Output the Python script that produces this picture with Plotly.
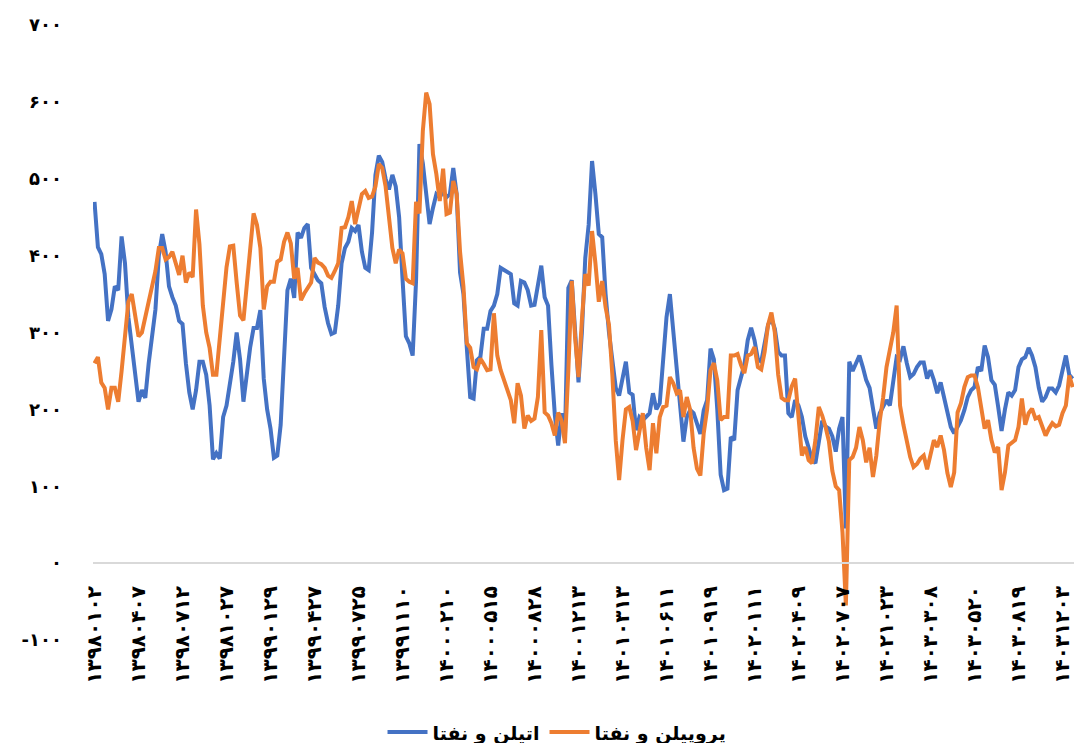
import plotly.graph_objects as go

# Tick labels (dates, Persian digits) shown every 13 points
date_labels = ["۱۳۹۸۰۱۰۲", "۱۳۹۸۰۴۰۷", "۱۳۹۸۰۷۱۲", "۱۳۹۸۱۰۲۷", "۱۳۹۹۰۱۲۹", "۱۳۹۹۰۴۲۷",
               "۱۳۹۹۰۷۲۵", "۱۳۹۹۱۱۱۰", "۱۴۰۰۰۲۱۰", "۱۴۰۰۰۵۱۵", "۱۴۰۰۰۸۲۸", "۱۴۰۰۱۲۱۳",
               "۱۴۰۱۰۳۱۳", "۱۴۰۱۰۶۱۱", "۱۴۰۱۰۹۱۹", "۱۴۰۲۰۱۱۱", "۱۴۰۲۰۴۰۹", "۱۴۰۲۰۷۰۷",
               "۱۴۰۲۱۰۲۳", "۱۴۰۳۰۳۰۸", "۱۴۰۳۰۵۲۰", "۱۴۰۳۰۸۱۹", "۱۴۰۳۱۲۰۳"]
label_step = 13

series_names = ["اتیلن و نفتا", "پروپیلن و نفتا"]

ethylene_naphtha = [
    470, 411, 402, 376, 315, 330, 360, 355, 425, 390, 320, 285, 245, 210, 225, 215, 260, 292, 330, 400,
    428, 405, 360, 346, 335, 315, 311, 260, 222, 200, 225, 262, 262, 245, 205, 135, 143, 136, 190, 205,
    232, 262, 300, 265, 210, 250, 281, 306, 306, 329, 240, 200, 175, 137, 140, 180, 280, 355, 370, 345,
    430, 423, 436, 441, 384, 375, 368, 364, 333, 312, 298, 300, 335, 390, 410, 418, 436, 432, 440, 405,
    384, 381, 430, 505, 530, 522, 500, 486, 505, 490, 450, 370, 295, 286, 270, 367, 545, 520, 480, 441,
    462, 480, 476, 484, 476, 480, 514, 480, 378, 350, 280, 216, 214, 264, 268, 305, 305, 328, 335, 350,
    384, 381, 378, 376, 338, 335, 367, 365, 355, 335, 336, 364, 387, 346, 335, 258, 193, 153, 195, 165,
    358, 368, 295, 235, 300, 397, 440, 523, 480, 428, 424, 350, 300, 265, 228, 218, 240, 262, 222, 219,
    173, 190, 186, 190, 195, 221, 200, 208, 262, 320, 350, 300, 245, 200, 158, 190, 199, 195, 183, 168,
    199, 212, 279, 265, 200, 115, 95, 97, 164, 160, 225, 242, 258, 290, 306, 290, 265, 262, 285, 310,
    318, 305, 275, 270, 270, 195, 190, 212, 205, 190, 165, 152, 135, 130, 160, 185, 178, 175, 165, 145,
    175, 190, 45, 262, 250, 260, 270, 255, 238, 228, 200, 175, 195, 205, 212, 205, 240, 268, 265, 282,
    260, 242, 246, 255, 261, 261, 240, 251, 238, 221, 235, 216, 195, 177, 169, 177, 186, 199, 216, 225,
    229, 255, 250, 283, 268, 238, 232, 203, 172, 200, 222, 218, 225, 255, 265, 268, 280, 270, 255, 228,
    210, 216, 227, 227, 222, 231, 248, 270, 245, 240,
]

propylene_naphtha = [
    260, 268, 235, 228, 200, 228, 228, 210, 250, 300, 340, 350, 320, 295, 300, 318, 340, 360, 380, 410,
    410, 395, 398, 405, 392, 375, 400, 365, 378, 372, 460, 415, 335, 300, 280, 245, 245, 290, 345, 385,
    412, 413, 365, 322, 316, 362, 405, 455, 440, 410, 330, 360, 366, 366, 392, 395, 418, 430, 416, 370,
    384, 342, 351, 358, 365, 397, 391, 389, 384, 374, 371, 380, 390, 436, 437, 450, 471, 441, 462, 480,
    484, 475, 477, 490, 519, 514, 490, 455, 410, 390, 408, 403, 370, 366, 364, 470, 455, 562, 612, 597,
    532, 506, 471, 513, 454, 456, 497, 480, 405, 360, 286, 280, 255, 252, 266, 259, 251, 252, 325, 270,
    251, 238, 225, 212, 182, 234, 218, 175, 192, 185, 188, 216, 303, 196, 192, 182, 166, 196, 185, 156,
    251, 367, 293, 242, 316, 376, 361, 432, 390, 340, 367, 333, 310, 245, 160, 108, 160, 200, 203, 185,
    147, 170, 195, 150, 121, 182, 143, 190, 203, 205, 242, 234, 221, 225, 190, 216, 199, 150, 123, 114,
    169, 200, 251, 260, 238, 186, 190, 190, 270, 270, 272, 258, 247, 270, 272, 281, 255, 252, 275, 310,
    326, 300, 245, 215, 212, 212, 230, 240, 190, 140, 151, 134, 130, 160, 203, 192, 177, 158, 120, 100,
    95, 40, -55, 134, 138, 150, 177, 160, 131, 150, 112, 140, 185, 215, 255, 280, 300, 335, 205, 180,
    160, 138, 125, 129, 136, 140, 122, 140, 160, 151, 166, 147, 117, 99, 118, 196, 208, 229, 242, 244,
    244, 229, 199, 175, 186, 160, 144, 151, 95, 118, 153, 156, 160, 177, 214, 180, 195, 201, 188, 190,
    177, 166, 175, 182, 178, 180, 195, 205, 244, 229,
]

y_ticks = [-100, 0, 100, 200, 300, 400, 500, 600, 700]

fa_digits = str.maketrans("0123456789-", "۰۱۲۳۴۵۶۷۸۹-")
y_ticktext = [str(v).translate(fa_digits) for v in y_ticks]

n = len(ethylene_naphtha)
x = list(range(n))
tickvals = [i * label_step for i in range(len(date_labels))]

FONT = "DejaVu Sans"

fig = go.Figure()
fig.add_trace(go.Scatter(x=x, y=ethylene_naphtha, mode="lines", name=series_names[0],
                         line=dict(color="#4472C4", width=4)))
fig.add_trace(go.Scatter(x=x, y=propylene_naphtha, mode="lines", name=series_names[1],
                         line=dict(color="#ED7D31", width=4)))

fig.update_layout(
    width=1074, height=743,
    margin=dict(l=93, r=0, t=25, b=103, autoexpand=False),
    paper_bgcolor="white", plot_bgcolor="white",
    showlegend=True,
    legend=dict(orientation="h", x=0.473, xanchor="center", y=-0.15, yanchor="middle",
                font=dict(family=FONT, size=19, color="black", weight="bold"),
                itemwidth=40, bgcolor="rgba(0,0,0,0)"),
    xaxis=dict(range=[-0.45, n - 0.6], tickmode="array", tickvals=tickvals, ticktext=date_labels,
               tickangle=-90, tickfont=dict(family=FONT, size=20, color="black", weight="bold"),
               showgrid=False, zeroline=False, showline=True, linecolor="#D9D9D9", linewidth=2,
               anchor="free", position=0.125, ticks="", ticklabelstandoff=14, automargin=False,
               ticklabeloverflow="allow"),
    yaxis=dict(range=[-100, 700], tickmode="array", tickvals=y_ticks, ticktext=y_ticktext,
               tickfont=dict(family=FONT, size=18, color="black", weight="bold"),
               showgrid=False, zeroline=False, showline=False, ticks="",
               ticklabelstandoff=30, automargin=False),
)

# remove the browser's default body margin so the figure fills the window exactly
fig.write_html("out.html", config={"displayModeBar": False},
               post_script="document.body.style.margin='0px';document.body.style.overflow='hidden';")
